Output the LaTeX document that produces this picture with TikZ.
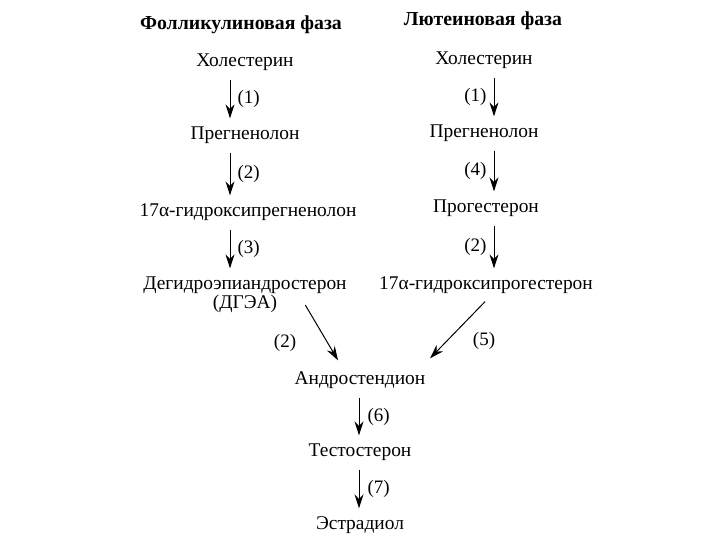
\documentclass[tikz,border=0pt]{standalone}
\usepackage{fontspec}
\setmainfont{Liberation Serif}
\usetikzlibrary{arrows.meta}

\begin{document}
\begin{tikzpicture}[x=1pt, y=-1pt,
  stage/.style={inner sep=0pt, font=\fontsize{19.4}{23}\selectfont},
  phase/.style={inner sep=0pt, font=\fontsize{19.8}{23}\selectfont\bfseries},
  enz/.style={inner sep=2pt, font=\fontsize{19}{22}\selectfont},
  conv/.style={line width=1pt, -{Stealth[length=14pt, width=9pt]}}]
  \useasboundingbox[fill=white] (0,0) rectangle (720,540);
  % columns
  \coordinate (xl) at (230,0);
  \coordinate (xr) at (494,0);
  \coordinate (xc) at (359,0);
  % titles
  \node[phase] (fol) at (241,25) {Фолликулиновая фаза};
  \node[phase] (lut) at (483,21) {Лютеиновая фаза};
  % follicular phase
  \node[stage] (hol1) at (245,62) {Холестерин};
  \node[stage] (preg1) at (245,135) {Прегненолон};
  \node[stage] (ohpreg) at (248,212) {17α-гидроксипрегненолон};
  \node[stage] (dhea) at (245,285) {Дегидроэпиандростерон};
  \node[stage] (dhea2) at (245,304) {(ДГЭА)};
  % luteal phase
  \node[stage] (hol2) at (484,60) {Холестерин};
  \node[stage] (preg2) at (484,133) {Прегненолон};
  \node[stage] (prog) at (486,208) {Прогестерон};
  \node[stage] (ohprog) at (486,285) {17α-гидроксипрогестерон};
  % common part
  \node[stage] (andr) at (360,380) {Андростендион};
  \node[stage] (test) at (360,452) {Тестостерон};
  \node[stage] (estr) at (360,525) {Эстрадиол};

  \draw[conv] ([yshift=-9]hol1.south -| xl) -- node[enz, right, xshift=5] {(1)} ([yshift=8]preg1.north -| xl);
  \draw[conv] ([yshift=-9]preg1.south -| xl) -- node[enz, right, xshift=5] {(2)} ([yshift=8]ohpreg.north -| xl);
  \draw[conv] ([yshift=-9]ohpreg.south -| xl) -- node[enz, right, xshift=5] {(3)} ([yshift=8]dhea.north -| xl);

  \draw[conv] ([yshift=-9]hol2.south -| xr) -- node[enz, left, xshift=-5] {(1)} ([yshift=8]preg2.north -| xr);
  \draw[conv] ([yshift=-9]preg2.south -| xr) -- node[enz, left, xshift=-5] {(4)} ([yshift=8]prog.north -| xr);
  \draw[conv] ([yshift=-9]prog.south -| xr) -- node[enz, left, xshift=-5] {(2)} ([yshift=8]ohprog.north -| xr);

  \draw[conv] ([xshift=28, yshift=-1]dhea2.east) -- ([xshift=-22, yshift=11]andr.north);
  \node[enz] (k2) at (285,343) {(2)};
  \draw[conv] ([xshift=-1, yshift=-8]ohprog.south) -- ([xshift=70, yshift=13]andr.north);
  \node[enz] (k5) at (484,341) {(5)};

  \draw[conv] ([yshift=-9]andr.south -| xc) -- node[enz, right, xshift=6] {(6)} ([yshift=8]test.north -| xc);
  \draw[conv] ([yshift=-9]test.south -| xc) -- node[enz, right, xshift=6] {(7)} ([yshift=8]estr.north -| xc);
\end{tikzpicture}
\end{document}
